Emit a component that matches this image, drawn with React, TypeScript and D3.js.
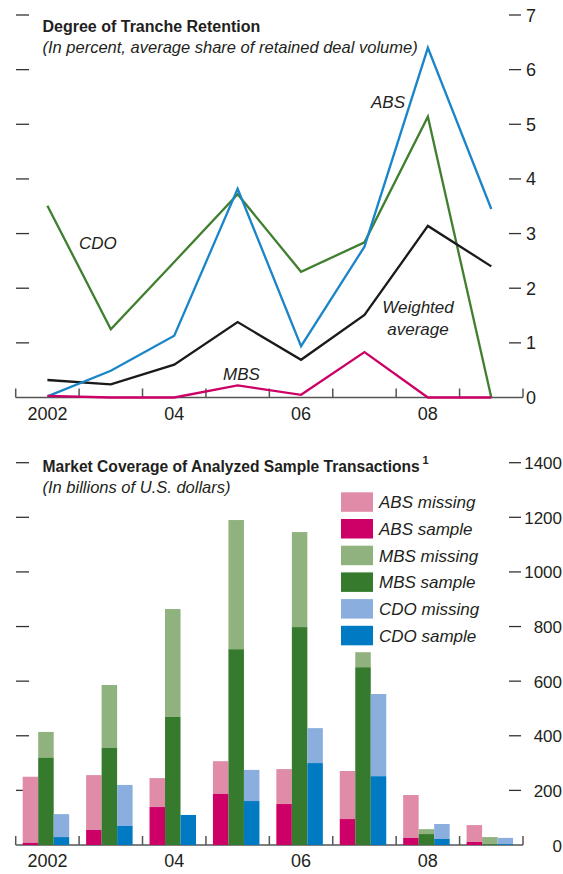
import React from 'react';
import * as d3 from 'd3';

// years on both panels
const years = [2002, 2003, 2004, 2005, 2006, 2007, 2008, 2009];
const yearLabels = ['2002', '', '04', '', '06', '', '08', ''];

// top panel: tranche retention, percent
const absRet = [0.02, 0.49, 1.13, 3.82, 0.94, 2.76, 6.4, 3.45];
const cdoRet = [3.51, 1.25, 2.48, 3.72, 2.3, 2.84, 5.14, 0.0];
const mbsRet = [0.03, 0.0, 0.0, 0.22, 0.05, 0.83, 0.0, 0.0];
const wavgRet = [0.32, 0.24, 0.6, 1.38, 0.69, 1.51, 3.14, 2.4];
const topTicks = [0, 1, 2, 3, 4, 5, 6, 7];

// bottom panel: billions of U.S. dollars
const absSample = [8, 55, 139, 187, 150, 95, 26, 11];
const absMissing = [242, 201, 106, 120, 128, 176, 157, 62];
const mbsSample = [320, 356, 469, 717, 798, 651, 40, 3];
const mbsMissing = [94, 230, 395, 473, 348, 55, 18, 26];
const cdoSample = [29, 70, 110, 161, 300, 252, 22, 3];
const cdoMissing = [84, 150, 0, 114, 128, 301, 55, 23];
const bottomTicks = [0, 200, 400, 600, 800, 1000, 1200, 1400];

const legendItems = [
  { label: 'ABS missing', color: '#e08ca8' },
  { label: 'ABS sample', color: '#cc0066' },
  { label: 'MBS missing', color: '#90b27e' },
  { label: 'MBS sample', color: '#367b2d' },
  { label: 'CDO missing', color: '#8aaedd' },
  { label: 'CDO sample', color: '#007ac2' },
];

const FONT = "'Liberation Sans Narrow', 'Arial Narrow', 'Liberation Sans', sans-serif";
const INK = '#231f20';
const AXIS = '#555';

const x = d3.scaleBand<number>().domain(years).range([15.7, 523]);
const xc = (yr: number) => (x(yr) as number) + x.bandwidth() / 2;

const yTop = d3.scaleLinear().domain([0, 7]).range([397.5, 15]);
const yBot = d3.scaleLinear().domain([0, 1400]).range([845, 462.7]);

const groups = ['abs', 'mbs', 'cdo'];
const xInner = d3.scaleBand<string>().domain(groups).range([7, 53.5]);

const Axis = ({ y0 }: { y0: number }) => {
  const edges = years.map((yr) => x(yr) as number).concat([x.range()[1]]);
  return (
    <g stroke={AXIS} strokeWidth={1.5}>
      <line x1={x.range()[0]} x2={x.range()[1]} y1={y0} y2={y0} />
      {edges.map((e, i) => (
        <line key={i} x1={e} x2={e} y1={y0} y2={y0 - 9} />
      ))}
    </g>
  );
};

const YearLabels = ({ y }: { y: number }) => (
  <g fontFamily={FONT} fontSize={18} fill={INK} textAnchor="middle">
    {years.map((yr, i) => (
      <text key={yr} x={xc(yr)} y={y}>
        {yearLabels[i]}
      </text>
    ))}
  </g>
);

const App = () => {
  const line = d3
    .line<number>()
    .x((_, i) => xc(years[i]))
    .y((d) => yTop(d));

  const series = [
    { data: cdoRet, color: '#3f7f2f' },
    { data: wavgRet, color: '#1a1a1a' },
    { data: absRet, color: '#1a85c8' },
    { data: mbsRet, color: '#cc0066' },
  ];

  const stacks = [
    { key: 'abs', sample: absSample, missing: absMissing, cs: '#cc0066', cm: '#e08ca8' },
    { key: 'mbs', sample: mbsSample, missing: mbsMissing, cs: '#367b2d', cm: '#90b27e' },
    { key: 'cdo', sample: cdoSample, missing: cdoMissing, cs: '#007ac2', cm: '#8aaedd' },
  ];

  return (
    <svg width={563} height={874} style={{ position: 'absolute', left: 0, top: 0 }}>
      <rect width={563} height={874} fill="#fff" />

      {/* ---------- top panel ---------- */}
      <text x={42.5} y={32} fontFamily={FONT} fontWeight="bold" fontSize={16} fill={INK}>
        Degree of Tranche Retention
      </text>
      <text x={42.5} y={53} fontFamily={FONT} fontStyle="italic" fontSize={16.5} fill={INK}>
        (In percent, average share of retained deal volume)
      </text>

      <g stroke="#333" strokeWidth={1.3}>
        {topTicks
          .filter((t) => t > 0)
          .map((t) => (
            <g key={t}>
              <line x1={16} x2={29} y1={yTop(t)} y2={yTop(t)} />
              <line x1={509} x2={521} y1={yTop(t)} y2={yTop(t)} />
            </g>
          ))}
      </g>
      <g fontFamily={FONT} fontSize={18} fill={INK}>
        {topTicks.map((t) => (
          <text key={t} x={526} y={yTop(t) + 6.5}>
            {t}
          </text>
        ))}
      </g>

      <Axis y0={yTop(0)} />
      {series.map((s, i) => (
        <path key={i} d={line(s.data) as string} fill="none" stroke={s.color} strokeWidth={2.3} />
      ))}

      <g fontFamily={FONT} fontStyle="italic" fontSize={17} fill={INK}>
        <text x={371} y={108}>ABS</text>
        <text x={79} y={249}>CDO</text>
        <text x={223} y={380}>MBS</text>
        <text x={418} y={313} textAnchor="middle">Weighted</text>
        <text x={418} y={335} textAnchor="middle">average</text>
      </g>
      <YearLabels y={419.5} />

      {/* ---------- bottom panel ---------- */}
      <text x={42.5} y={471.5} fontFamily={FONT} fontWeight="bold" fontSize={15.6} fill={INK}>
        Market Coverage of Analyzed Sample Transactions
      </text>
      <text x={422.5} y={464} fontFamily={FONT} fontWeight="bold" fontSize={11} fill={INK}>
        1
      </text>
      <text x={42.5} y={492.5} fontFamily={FONT} fontStyle="italic" fontSize={16.5} fill={INK}>
        (In billions of U.S. dollars)
      </text>

      <g stroke="#333" strokeWidth={1.3}>
        {bottomTicks
          .filter((t) => t > 0)
          .map((t) => (
            <g key={t}>
              <line x1={16} x2={29} y1={yBot(t)} y2={yBot(t)} />
              <line x1={509} x2={521} y1={yBot(t)} y2={yBot(t)} />
            </g>
          ))}
      </g>
      <g fontFamily={FONT} fontSize={17} fill={INK} textAnchor="end">
        {bottomTicks.map((t) => (
          <text key={t} x={562} y={yBot(t) + 6.5}>
            {t}
          </text>
        ))}
      </g>

      <Axis y0={yBot(0)} />
      {stacks.map((s) =>
        years.map((yr, i) => {
          const bx = (x(yr) as number) + (xInner(s.key) as number);
          const w = xInner.bandwidth();
          const top = s.sample[i] + s.missing[i];
          return (
            <g key={s.key + yr}>
              <rect x={bx} width={w} y={yBot(top)} height={yBot(s.sample[i]) - yBot(top)} fill={s.cm} />
              <rect x={bx} width={w} y={yBot(s.sample[i])} height={yBot(0) - yBot(s.sample[i])} fill={s.cs} />
            </g>
          );
        })
      )}

      <g fontFamily={FONT} fontStyle="italic" fontSize={17} fill={INK}>
        {legendItems.map((d, i) => {
          const ly = 492.3 + i * 26.7;
          return (
            <g key={d.label}>
              <rect x={341} y={ly} width={32} height={19.5} fill={d.color} />
              <text x={379} y={ly + 16}>
                {d.label}
              </text>
            </g>
          );
        })}
      </g>
      <YearLabels y={866.5} />
    </svg>
  );
};

export default App;
